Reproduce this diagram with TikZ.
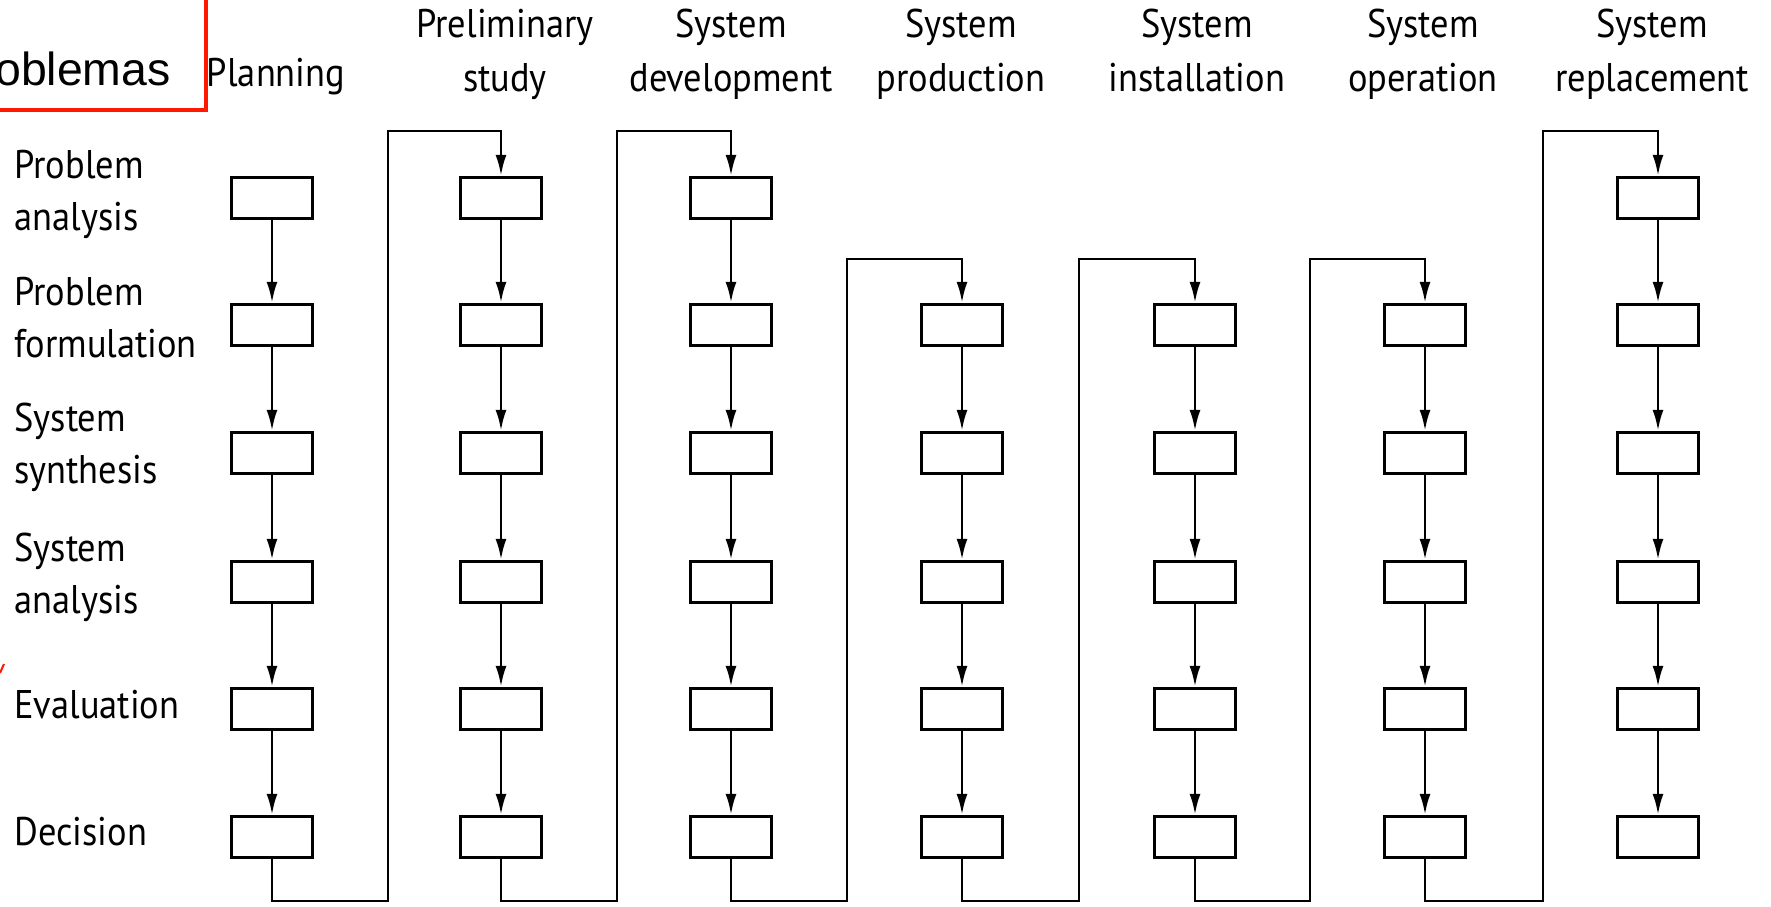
\documentclass[tikz,border=0pt]{standalone}
\usepackage{fontspec}
\setmainfont{PT Sans}[FakeStretch=0.91]
\newfontfamily\arialfont{Liberation Sans}
\usetikzlibrary{arrows.meta}
\begin{document}
\begin{tikzpicture}[x=0.5pt,y=-0.5pt,
  stagebox/.style={draw, line width=1.7pt, minimum width=40.5pt, minimum height=20.5pt, inner sep=0pt},
  flow/.style={line width=1.3pt, -{Latex[length=10.5pt,width=5.5pt]}},
  hdr/.style={align=center, font=\fontsize{20}{27}\selectfont, inner sep=0pt},
  lbl/.style={align=left, anchor=west, font=\fontsize{20}{26}\selectfont, inner sep=0pt}]
\useasboundingbox (0,0) rectangle (1771,906);
\clip (0,0) rectangle (1771,906);

% red annotation box
\draw[red!80!orange, line width=2pt] (-20,-20) rectangle (206,110);
\node[anchor=base east, inner sep=0pt, font=\arialfont\fontsize{23.2}{28}\selectfont] (prob) at (171,85) {Problemas};
\draw[red!80!orange, line width=1pt] (0,673) -- (4,664);

% headers
\node[hdr] (h1) at (276,76) {Planning\strut};
\node[hdr] (h2) at (505,54) {Preliminary\strut\\study\strut};
\node[hdr] (h3) at (731,54) {System\strut\\development\strut};
\node[hdr] (h4) at (961,54) {System\strut\\production\strut};
\node[hdr] (h5) at (1197,54) {System\strut\\installation\strut};
\node[hdr] (h6) at (1423,54) {System\strut\\operation\strut};
\node[hdr] (h7) at (1652,54) {System\strut\\replacement\strut};

% row labels
\node[lbl] (l1) at (14,194) {Problem\strut\\analysis\strut};
\node[lbl] (l2) at (14,321) {Problem\strut\\formulation\strut};
\node[lbl] (l3) at (14,447) {System\strut\\synthesis\strut};
\node[lbl] (l4) at (14,577) {System\strut\\analysis\strut};
\node[lbl] (l5) at (14,708) {Evaluation\strut};
\node[lbl] (l6) at (14,835) {Decision\strut};

% boxes
\foreach \c/\x in {1/272,2/501,3/731,7/1658}{
  \foreach \r/\y in {1/198,2/325,3/453,4/582,5/709,6/837}{
    \node[stagebox] (b\c\r) at (\x,\y) {};
  }
}
\foreach \c/\x in {4/962,5/1195,6/1425}{
  \foreach \r/\y in {2/325,3/453,4/582,5/709,6/837}{
    \node[stagebox] (b\c\r) at (\x,\y) {};
  }
}

% arrows within columns
\foreach \c in {1,2,3,7}{
  \foreach \r in {1,...,5}{
    \pgfmathtruncatemacro{\n}{\r+1}
    \draw[flow] (b\c\r) -- (b\c\n);
  }
}
\foreach \c in {4,5,6}{
  \foreach \r in {2,...,5}{
    \pgfmathtruncatemacro{\n}{\r+1}
    \draw[flow] (b\c\r) -- (b\c\n);
  }
}

% connector coordinates
\coordinate (topA) at (0,131);
\coordinate (topB) at (0,259);
\coordinate (v1) at (388,901);
\coordinate (v2) at (617,901);
\coordinate (v3) at (847,901);
\coordinate (v4) at (1079,901);
\coordinate (v5) at (1310,901);
\coordinate (v6) at (1543,901);

% connectors between columns
\draw[flow] (b16.south) |- (v1) |- (b21.north |- topA) -- (b21.north);
\draw[flow] (b26.south) |- (v2) |- (b31.north |- topA) -- (b31.north);
\draw[flow] (b36.south) |- (v3) |- (b42.north |- topB) -- (b42.north);
\draw[flow] (b46.south) |- (v4) |- (b52.north |- topB) -- (b52.north);
\draw[flow] (b56.south) |- (v5) |- (b62.north |- topB) -- (b62.north);
\draw[flow] (b66.south) |- (v6) |- (b71.north |- topA) -- (b71.north);
\end{tikzpicture}
\end{document}
